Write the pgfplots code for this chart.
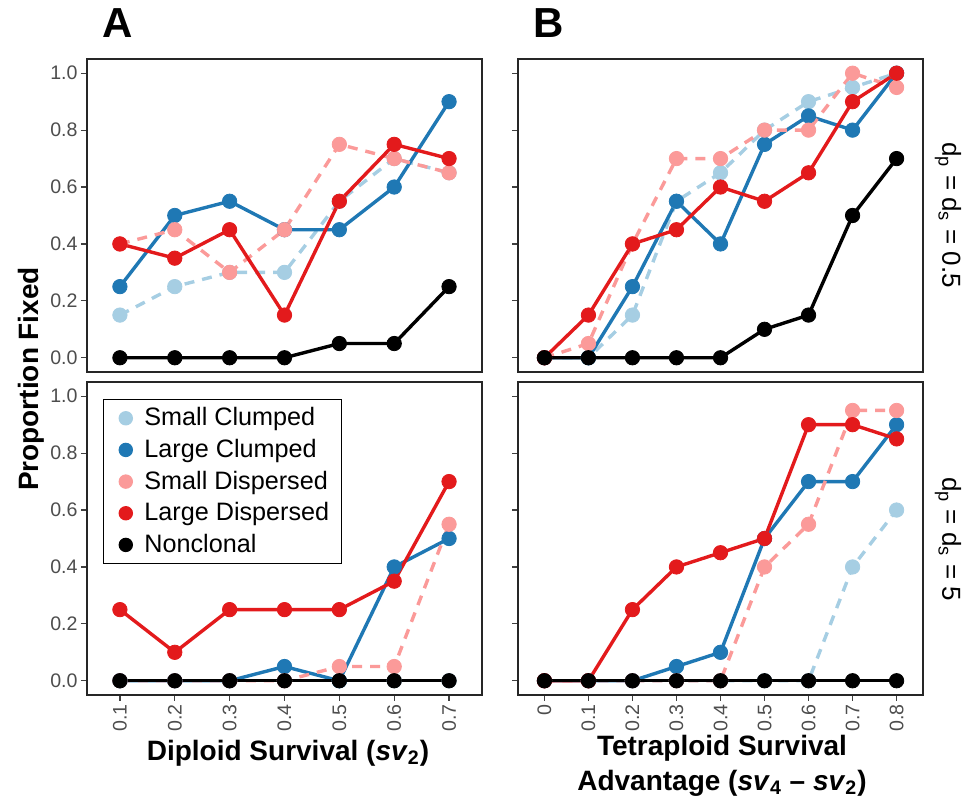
\documentclass[border=0pt]{standalone}
\usepackage{fontspec}
\setmainfont{Liberation Sans}
\usepackage{pgfplots}
\usepackage{pgfplotstable}
\pgfplotsset{compat=1.18}

\definecolor{sclump}{HTML}{A6CEE3}
\definecolor{lclump}{HTML}{1F78B4}
\definecolor{sdisp}{HTML}{FB9A99}
\definecolor{ldisp}{HTML}{E31A1C}
\definecolor{ticktext}{HTML}{4D4D4D}

% columns: sc = small clumped, lc = large clumped, sd = small dispersed,
% ld = large dispersed, nc = nonclonal
\pgfplotstableread{
x   sc   lc   sd   ld   nc
0.1 0.15 0.25 0.40 0.40 0
0.2 0.25 0.50 0.45 0.35 0
0.3 0.30 0.55 0.30 0.45 0
0.4 0.30 0.45 0.45 0.15 0
0.5 0.55 0.45 0.75 0.55 0.05
0.6 0.70 0.60 0.70 0.75 0.05
0.7 0.65 0.90 0.65 0.70 0.25
}\TLdata
\pgfplotstableread{
x   sc   lc   sd   ld   nc
0.0 0    0    0    0    0
0.1 0    0    0.05 0.15 0
0.2 0.15 0.25 0.40 0.40 0
0.3 0.55 0.55 0.70 0.45 0
0.4 0.65 0.40 0.70 0.60 0
0.5 0.80 0.75 0.80 0.55 0.10
0.6 0.90 0.85 0.80 0.65 0.15
0.7 0.95 0.80 1.00 0.90 0.50
0.8 1.00 1.00 0.95 1.00 0.70
}\TRdata
\pgfplotstableread{
x   sc   lc   sd   ld   nc
0.1 0    0    0    0.25 0
0.2 0    0    0    0.10 0
0.3 0    0    0    0.25 0
0.4 0    0.05 0    0.25 0
0.5 0    0    0.05 0.25 0
0.6 0    0.40 0.05 0.35 0
0.7 0    0.50 0.55 0.70 0
}\BLdata
\pgfplotstableread{
x   sc   lc   sd   ld   nc
0.0 0    0    0    0    0
0.1 0    0    0    0    0
0.2 0    0    0    0.25 0
0.3 0    0.05 0    0.40 0
0.4 0    0.10 0    0.45 0
0.5 0    0.50 0.40 0.50 0
0.6 0    0.70 0.55 0.90 0
0.7 0.40 0.70 0.95 0.90 0
0.8 0.60 0.90 0.95 0.85 0
}\BRdata

\pgfplotsset{
  panel/.style={
    scale only axis, height=156.5pt,
    ymin=-0.05, ymax=1.05, ytick={0,0.2,0.4,0.6,0.8,1.0},
    axis line style={black!85, line width=1pt},
    tick align=outside, tick pos=left, major tick length=3pt,
    tick style={black!75, line width=0.6pt},
    ticklabel style={font=\fontsize{9.8}{11}\selectfont, text=ticktext},
    yticklabel style={/pgf/number format/fixed, /pgf/number format/fixed zerofill,
      /pgf/number format/precision=1, /pgf/number format/assume math mode=true, inner sep=1.5pt},
    xticklabel style={rotate=90, anchor=east, /pgf/number format/fixed,
      /pgf/number format/precision=1, /pgf/number format/assume math mode=true, inner sep=1.5pt},
  },
  leftpanel/.style={panel, width=197.5pt, xmin=0.04, xmax=0.76,
    xtick={0.1,0.2,0.3,0.4,0.5,0.6,0.7}},
  rightpanel/.style={panel, width=202.5pt, xmin=-0.06, xmax=0.86,
    xtick={0,0.1,0.2,0.3,0.4,0.5,0.6,0.7,0.8}, yticklabels={}},
  ln/.style={line width=1.7pt, forget plot},
  dsh/.style={dash pattern=on 5pt off 4pt},
  pt/.style={only marks, mark=*, mark size=3.6pt, color=#1, mark options={fill=#1, draw=#1},
    legend image code/.code={\path[draw=none, fill=none] (0pt,-3.3pt) rectangle (14.4pt,3.3pt);
      \fill (7.1pt,0pt) circle (3.3pt);}},
}

\newcommand\drawseries[1]{%
  \addplot[ln, dsh, color=sclump] table[x=x, y=sc] {#1};
  \addplot[ln, color=lclump] table[x=x, y=lc] {#1};
  \addplot[ln, dsh, color=sdisp] table[x=x, y=sd] {#1};
  \addplot[ln, color=ldisp] table[x=x, y=ld] {#1};
  \addplot[ln, color=black] table[x=x, y=nc] {#1};
  \addplot[pt=sclump] table[x=x, y=sc] {#1};
  \addplot[pt=lclump] table[x=x, y=lc] {#1};
  \addplot[pt=sdisp] table[x=x, y=sd] {#1};
  \addplot[pt=ldisp] table[x=x, y=ld] {#1};
  \addplot[pt=black] table[x=x, y=nc] {#1};
}

\begin{document}
\begin{tikzpicture}
\path[use as bounding box] (0,0) rectangle (487.5pt,400.5pt);

% top left
\begin{axis}[leftpanel, at={(43.5pt,214.5pt)}, anchor=south west, xtick=\empty]
\drawseries{\TLdata}
\end{axis}

% top right
\begin{axis}[rightpanel, at={(259pt,214.5pt)}, anchor=south west, xtick=\empty]
\drawseries{\TRdata}
\end{axis}

% bottom left, with the legend
\begin{axis}[leftpanel, at={(43.5pt,53pt)}, anchor=south west,
  legend entries={Small Clumped, Large Clumped, Small Dispersed, Large Dispersed, Nonclonal},
  legend cell align=left,
  legend style={at={(0.0405,0.9455)}, anchor=north west, draw=black, line width=0.6pt,
    font=\fontsize{12.6}{14}\selectfont, row sep=1.2pt, inner xsep=4pt, inner ysep=2pt,
    /tikz/every even column/.append style={column sep=4pt}}]
\drawseries{\BLdata}
\end{axis}

% bottom right
\begin{axis}[rightpanel, at={(259pt,53pt)}, anchor=south west]
\drawseries{\BRdata}
\end{axis}

\node[font=\bfseries\fontsize{21}{24}\selectfont] at (59pt,389pt) {A};
\node[font=\bfseries\fontsize{21}{24}\selectfont] at (274.5pt,389pt) {B};
\node[rotate=90, font=\bfseries\fontsize{14}{16}\selectfont] at (15.5pt,211pt) {Proportion Fixed};
\node[font=\bfseries\fontsize{14}{16}\selectfont] at (144pt,24pt)
  {Diploid Survival (\textit{sv}\textsubscript{2})};
\node[align=center, font=\bfseries\fontsize{14}{17.5}\selectfont] at (361pt,17.5pt)
  {Tetraploid Survival\\Advantage (\textit{sv}\textsubscript{4} – \textit{sv}\textsubscript{2})};
\node[rotate=-90, font=\fontsize{13}{15}\selectfont] at (474pt,293pt)
  {d\textsubscript{p} = d\textsubscript{s} = 0.5};
\node[rotate=-90, font=\fontsize{13}{15}\selectfont] at (474pt,131pt)
  {d\textsubscript{p} = d\textsubscript{s} = 5};
\end{tikzpicture}
\end{document}
